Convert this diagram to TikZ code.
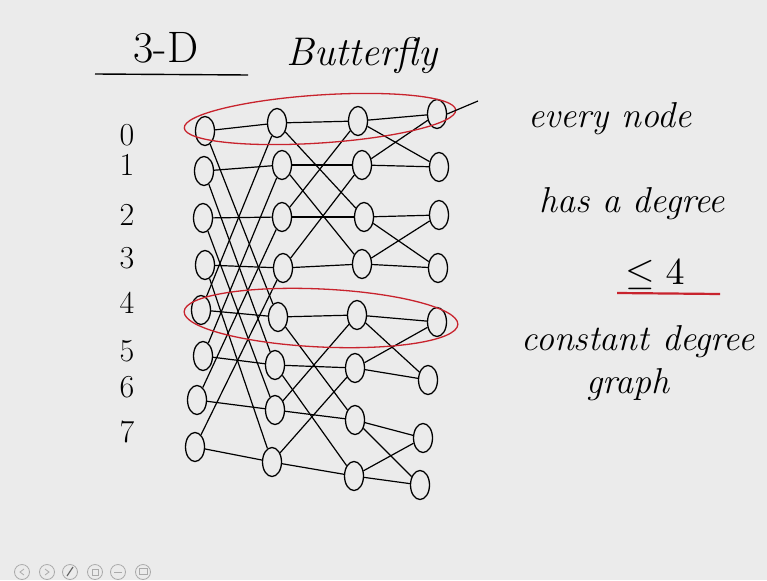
\documentclass[tikz,border=0pt]{standalone}
\usepackage{amsmath,amssymb}
\usepackage{graphicx}
\usepackage{xcolor}
\usepackage{tikz}
\usetikzlibrary{shapes.geometric}

\definecolor{board}{RGB}{235,235,235}
\definecolor{penred}{RGB}{200,35,45}
\definecolor{iconcol}{RGB}{170,170,170}

\tikzset{
  bnode/.style={draw, ellipse, line width=1.3pt, minimum width=19pt, minimum height=29pt, inner sep=0pt},
  edge/.style={line width=1.2pt},
  ring/.style={penred, line width=1.3pt},
  hand/.style={font=\fontsize{36}{40}\selectfont\itshape, inner sep=0pt, anchor=base},
  rowlbl/.style={font=\fontsize{32}{34}\selectfont, inner sep=0pt},
  tbtn/.style={draw=iconcol, circle, line width=0.8pt, minimum size=15pt, inner sep=0pt},
}

\begin{document}
\begin{tikzpicture}[x=1pt, y=-1pt]

    % Board
    \fill[board] (0,0) rectangle (767,580);
    \useasboundingbox (0,0) rectangle (767,580);

    % Title
    \node[font=\fontsize{44}{46}\selectfont, inner sep=0pt] (dim) at (166,48) {3-D};
    \draw[line width=1.4pt] (95,74) -- (248,75);
    \node[hand, font=\fontsize{40}{44}\selectfont\itshape] (title) at (362,66) {Butterfly};

    % Row numbers
    \foreach \r/\y in {0/135,1/165,2/215,3/258,4/303,5/351,6/387,7/432}
        \node[rowlbl] (row\r) at (127,\y) {\r};

    % Nodes: level/row/x/y
    \foreach \c/\r/\x/\y in {
        0/0/205/131, 1/0/277/123, 2/0/358/121, 3/0/437/114,
        0/1/204/171, 1/1/282/165, 2/1/362/165, 3/1/439/167,
        0/2/203/218, 1/2/282/217, 2/2/364/217, 3/2/439/215,
        0/3/205/265, 1/3/283/268, 2/3/362/264, 3/3/438/268,
        0/4/201/310, 1/4/278/317, 2/4/357/315, 3/4/437/322,
        0/5/203/356, 1/5/275/365, 2/5/355/368, 3/5/428/380,
        0/6/197/400, 1/6/275/410, 2/6/355/420, 3/6/423/438,
        0/7/195/447, 1/7/272/462, 2/7/354/476, 3/7/420/485}
        \node[bnode] (n\c\r) at (\x,\y) {};

    % Straight and cross edges (level c flips bit v)
    \foreach \c/\d/\v in {0/1/4, 1/2/2, 2/3/1}{
        \foreach \r in {0,...,7}{
            \pgfmathtruncatemacro{\b}{mod(floor(\r/\v),2)}
            \pgfmathtruncatemacro{\p}{\r+\v*(1-2*\b)}
            \draw[edge] (n\c\r) -- (n\d\r);
            \draw[edge] (n\c\r) -- (n\d\p);
        }
    }

    % Red rings round rows 0 and 4
    \draw[ring, rotate around={3.8:(320,119)}] (320,119) ellipse [x radius=136, y radius=24];
    \draw[ring, rotate around={-2.7:(321,318)}] (321,318) ellipse [x radius=137, y radius=29];

    % Tick at the ring
    \coordinate (tick) at (478,101);
    \draw[edge] (n30.east) -- (tick);

    % Notes
    \node[hand] (note1) at (610,128) {every node};
    \node[hand] (note2) at (632,212) {has a degree};
    \node[hand, font=\normalsize] (note3) at (655,284) {\scalebox{3.8}{$\leq 4$}};
    \draw[ring, line width=2.2pt] (617,293) -- (720,294);
    \node[hand] (note4) at (638,350) {constant degree};
    \node[hand] (note5) at (628,393) {graph};

    % Toolbar
    \foreach \i/\x in {1/22, 2/47, 3/70, 4/95, 5/118, 6/143}
        \node[tbtn] (btn\i) at (\x,572) {};
    \draw[iconcol, line width=0.8pt] (24,569) -- (20,572) -- (24,575);
    \draw[iconcol, line width=0.8pt] (45,569) -- (49,572) -- (45,575);
    \draw[iconcol!60!black, line width=1.2pt] (67,576) -- (73,567);
    \draw[iconcol, line width=0.8pt] (92,569) rectangle (98,575);
    \draw[iconcol, line width=0.8pt] (114,572) -- (122,572);
    \draw[iconcol, line width=0.8pt] (139,568) rectangle (147,574);

\end{tikzpicture}
\end{document}
